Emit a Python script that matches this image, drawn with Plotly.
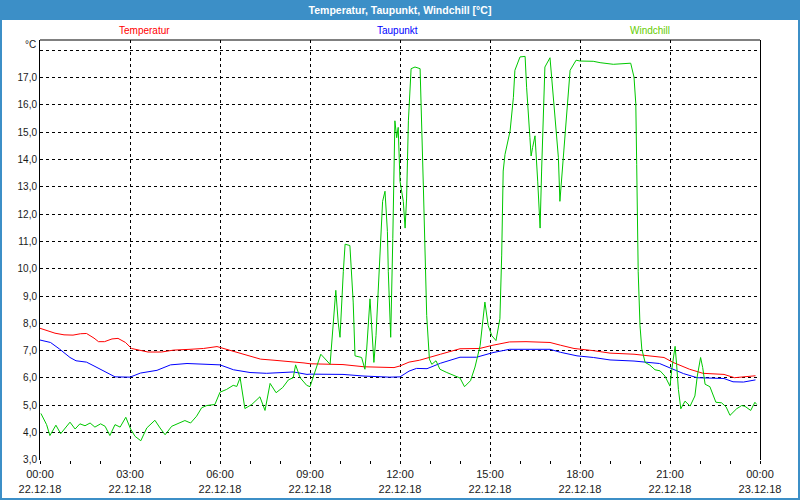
import plotly.graph_objects as go

# ---------------- data (hours since 22.12.18 00:00) ----------------
temp_hours = [0.0, 0.5, 0.8, 1.1, 1.35, 1.55, 1.8, 1.95, 2.15, 2.4, 2.6, 2.85, 3.05, 3.35, 3.6, 4.05,
              4.45, 5.0, 5.45, 5.9, 6.2, 6.6, 7.0, 7.35, 7.8, 8.4, 8.8, 9.0, 10.1, 10.8, 11.8, 12.0,
              12.3, 12.65, 13.0, 13.35, 14.0, 14.65, 15.1, 15.65, 16.2, 17.0, 17.35, 17.8, 18.45,
              19.0, 19.8, 20.4, 20.8, 21.1, 21.65, 22.1, 22.8, 23.15, 23.45, 23.85]
temp_values = [7.82, 7.64, 7.58, 7.57, 7.62, 7.63, 7.46, 7.33, 7.33, 7.43, 7.45, 7.3, 7.08, 7.0, 6.95,
               6.95, 7.02, 7.05, 7.08, 7.15, 7.06, 6.92, 6.82, 6.69, 6.65, 6.6, 6.55, 6.52, 6.49, 6.41,
               6.38, 6.44, 6.58, 6.65, 6.75, 6.87, 7.07, 7.08, 7.2, 7.32, 7.33, 7.3, 7.2, 7.08, 7.0,
               6.91, 6.87, 6.8, 6.75, 6.57, 6.32, 6.17, 6.13, 6.01, 6.05, 6.08]

dew_hours = [0.0, 0.35, 0.65, 1.0, 1.2, 1.55, 1.8, 2.1, 2.5, 3.0, 3.35, 3.9, 4.35, 4.9, 5.45, 6.0,
             6.45, 7.0, 7.55, 8.1, 8.45, 8.9, 9.0, 10.1, 10.8, 11.65, 12.0, 12.3, 12.55, 12.9, 13.35,
             14.0, 14.55, 15.1, 15.65, 17.0, 17.35, 17.9, 18.45, 19.0, 19.8, 20.65, 21.0, 21.45,
             21.9, 22.8, 23.1, 23.45, 23.85]
dew_values = [7.39, 7.3, 7.06, 6.75, 6.63, 6.58, 6.44, 6.26, 6.04, 6.03, 6.18, 6.28, 6.48, 6.53, 6.5,
              6.48, 6.3, 6.2, 6.17, 6.2, 6.22, 6.13, 6.14, 6.13, 6.07, 6.03, 6.04, 6.25, 6.35, 6.34,
              6.54, 6.76, 6.76, 6.93, 7.05, 7.05, 6.94, 6.81, 6.75, 6.66, 6.62, 6.53, 6.38, 6.16,
              6.01, 5.98, 5.86, 5.85, 5.93]

wind_hours = [0.03, 0.22, 0.33, 0.53, 0.69, 1.0, 1.17, 1.33, 1.5, 1.67, 1.83, 2.02, 2.17, 2.33, 2.5,
              2.67, 2.86, 3.02, 3.17, 3.36, 3.56, 3.83, 4.0, 4.17, 4.39, 4.67, 4.83, 5.02, 5.22, 5.39,
              5.56, 5.83, 6.0, 6.22, 6.44, 6.56, 6.67, 6.83, 7.06, 7.33, 7.5, 7.67, 7.87, 8.09, 8.28,
              8.44, 8.52, 8.67, 8.89, 9.0, 9.11, 9.36, 9.67, 9.78, 9.86, 9.94, 10.0, 10.11, 10.17,
              10.33, 10.44, 10.5, 10.72, 10.83, 10.89, 11.0, 11.06, 11.13, 11.2, 11.33, 11.42, 11.5,
              11.58, 11.61, 11.69, 11.76, 11.83, 11.89, 11.94, 12.0, 12.11, 12.17, 12.22, 12.28,
              12.37, 12.5, 12.67, 12.78, 12.83, 12.89, 12.98, 13.06, 13.2, 13.33, 13.56, 13.83, 14.0,
              14.15, 14.35, 14.5, 14.67, 14.83, 14.94, 15.06, 15.2, 15.33, 15.39, 15.44, 15.5, 15.67,
              15.78, 15.83, 16.0, 16.17, 16.22, 16.33, 16.37, 16.42, 16.5, 16.59, 16.67, 16.72,
              16.83, 17.0, 17.11, 17.28, 17.33, 17.44, 17.58, 17.67, 17.87, 18.0, 18.44, 18.67,
              19.11, 19.56, 19.69, 19.8, 19.86, 19.89, 19.94, 20.0, 20.06, 20.17, 20.33, 20.5, 20.67,
              20.83, 21.0, 21.06, 21.17, 21.22, 21.28, 21.36, 21.5, 21.67, 21.83, 21.91, 22.02,
              22.09, 22.17, 22.33, 22.53, 22.72, 22.87, 23.0, 23.22, 23.39, 23.5, 23.69, 23.83, 23.89]
wind_values = [4.70, 4.29, 3.89, 4.27, 3.96, 4.38, 4.13, 4.32, 4.25, 4.35, 4.2, 4.32, 4.23, 3.89, 4.29,
               4.2, 4.56, 4.13, 3.86, 3.70, 4.17, 4.45, 4.17, 3.92, 4.23, 4.38, 4.44, 4.35, 4.6, 4.91,
               4.99, 5.03, 5.48, 5.58, 5.73, 5.69, 6.01, 4.88, 5.03, 5.31, 4.81, 5.8, 5.46, 5.65, 5.93,
               6.01, 6.48, 6.01, 5.73, 5.68, 6.07, 6.87, 6.5, 8.29, 9.21, 8.04, 7.49, 9.89, 10.9,
               10.85, 8.78, 6.81, 6.75, 6.32, 7.06, 8.9, 7.92, 6.57, 7.55, 10.38, 12.47, 12.84,
               11.37, 9.89, 7.49, 11.12, 15.42, 14.8, 15.18, 13.21, 12.47, 11.49, 12.59, 15.42,
               17.33, 17.39, 17.33, 12.96, 11.12, 8.29, 6.69, 6.5, 6.63, 6.32, 6.2, 6.07, 6.0,
               5.68, 5.9, 6.4, 7.18, 8.78, 7.92, 7.55, 7.37, 8.17, 10.5, 13.58, 14.19, 15.05,
               16.28, 17.27, 17.76, 17.78, 16.65, 14.81, 14.13, 14.44, 14.87, 13.21, 11.49, 13.58,
               17.39, 17.73, 16.28, 14.07, 12.47, 14.07, 16.04, 17.27, 17.64, 17.61, 17.6, 17.55,
               17.49, 17.54, 17.53, 17.02, 16.04, 13.82, 9.89, 7.92, 7.06, 6.57, 6.47, 6.3, 6.26,
               6.07, 5.7, 6.32, 7.16, 6.5, 5.58, 4.87, 5.15, 4.97, 5.34, 6.07, 6.75,
               6.38, 5.77, 5.68, 5.11, 5.09, 4.94, 4.63, 4.87, 4.99, 4.96, 4.81, 5.11, 5.03]

x_tick_hours = [0, 3, 6, 9, 12, 15, 18, 21, 24]
x_tick_labels = ["00:00<br>22.12.18", "03:00<br>22.12.18", "06:00<br>22.12.18", "09:00<br>22.12.18",
                 "12:00<br>22.12.18", "15:00<br>22.12.18", "18:00<br>22.12.18", "21:00<br>22.12.18",
                 "00:00<br>23.12.18"]
y_tick_values = list(range(3, 19))
y_tick_labels = [f"{v},0" for v in range(3, 18)] + [""]

series_names = ["Temperatur", "Taupunkt", "Windchill"]

# ---------------- styling ----------------
FONT = "Liberation Sans"
BLUE_FRAME = "#3c8fc7"
C_TEMP, C_DEW, C_WIND = "#ff0000", "#0000ff", "#00c800"
LEGEND_COLORS = ["#ff0000", "#0000ff", "#66cc00"]

W, H = 800, 500
ML, MR, MT, MB = 40, 40, 40, 40
PW, PH = W - ML - MR, H - MT - MB


def px_x(p):
    return (p - ML) / PW


def px_y(p):
    return (H - MB - p) / PH


fig = go.Figure()
for name, xs, ys, col in [(series_names[0], temp_hours, temp_values, C_TEMP),
                          (series_names[1], dew_hours, dew_values, C_DEW),
                          (series_names[2], wind_hours, wind_values, C_WIND)]:
    fig.add_trace(go.Scatter(x=xs, y=ys, mode="lines", name=name,
                             line=dict(color=col, width=1), showlegend=False))

legend_x_px = [144, 397, 650]

fig.update_layout(
    width=W, height=H, autosize=False,
    margin=dict(l=ML, r=MR, t=MT, b=MB, autoexpand=False),
    paper_bgcolor=BLUE_FRAME, plot_bgcolor="white",
    font=dict(family=FONT, size=10, color="#1a1a1a"),
    title=dict(text="<b>Temperatur, Taupunkt, Windchill [°C]</b>", x=0.5, xanchor="center",
               y=1 - 10 / H, yref="container", yanchor="middle",
               font=dict(family=FONT, size=10.5, color="white")),
    xaxis=dict(range=[0, 24], tickmode="array", tickvals=x_tick_hours, ticktext=x_tick_labels,
               automargin=False,
               showgrid=True, gridcolor="black", griddash="3px,3px", gridwidth=1,
               showline=False, zeroline=False, ticks="outside", ticklen=3, tickcolor="black",
               tickfont=dict(size=11), ticklabelstandoff=1,
               minor=dict(tickmode="linear", tick0=0, dtick=1, ticks="outside", ticklen=3,
                          tickcolor="black", showgrid=False)),
    yaxis=dict(range=[2.995, 18.38], tickmode="array", tickvals=y_tick_values, ticktext=y_tick_labels,
               automargin=False,
               showgrid=True, gridcolor="black", griddash="3px,3px", gridwidth=1,
               showline=True, linecolor="black", linewidth=1, mirror=True,
               zeroline=False, ticks="", tickfont=dict(size=10)),
    shapes=[
        dict(type="rect", xref="paper", yref="paper", x0=px_x(2), x1=px_x(798), y0=px_y(498), y1=px_y(20),
             fillcolor="white", line=dict(width=0), layer="below"),
        dict(type="line", xref="paper", yref="paper", x0=0, x1=1, y0=1, y1=1,
             line=dict(color="black", width=1)),
    ],
    annotations=[
        dict(text=name, x=px_x(xp), y=px_y(30), xref="paper", yref="paper",
             xanchor="center", yanchor="middle",
             showarrow=False, font=dict(color=col, size=10))
        for name, xp, col in zip(series_names, legend_x_px, LEGEND_COLORS)
    ] + [
        dict(text="°C", x=px_x(38), y=px_y(45), xref="paper", yref="paper",
             xanchor="right", yanchor="middle",
             showarrow=False, font=dict(size=10)),
    ],
)

fig.write_html("out.html", config={"displayModeBar": False},
               post_script="document.body.style.margin='0';document.body.style.padding='0';")
